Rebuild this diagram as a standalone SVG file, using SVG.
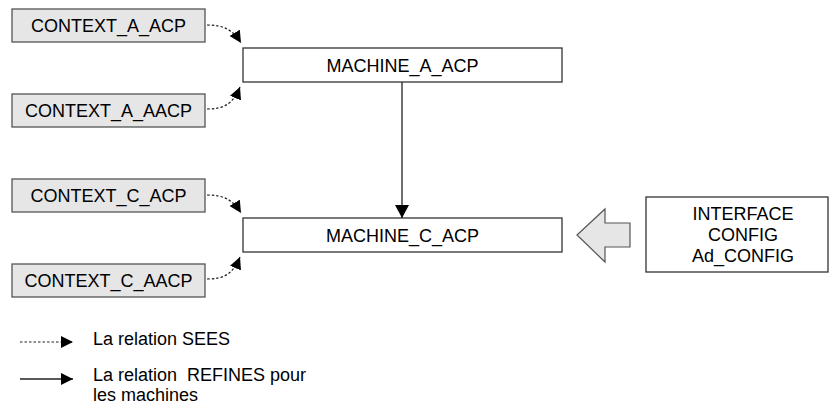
<svg xmlns="http://www.w3.org/2000/svg" width="830" height="406" viewBox="0 0 830 406">
<defs>
<style>
text{font-family:"Liberation Sans",Arial,sans-serif;font-size:18px;fill:#000}
.ctx{fill:#e6e6e6;stroke:#555;stroke-width:1.3}
.box{fill:#fff;stroke:#333;stroke-width:1.3}
.sees{fill:none;stroke:#222;stroke-width:1.2;stroke-dasharray:2.5,2}
.ref{fill:none;stroke:#222;stroke-width:1.3}
</style>
<marker id="ah" viewBox="0 0 12 12" refX="12" refY="6" markerWidth="12" markerHeight="12" markerUnits="userSpaceOnUse" orient="auto">
<path d="M0,0L12,6L0,12z" fill="#000"/>
</marker>
<marker id="ah2" viewBox="0 0 13 14" refX="13" refY="7" markerWidth="13" markerHeight="14" markerUnits="userSpaceOnUse" orient="auto">
<path d="M0,0L13,7L0,14z" fill="#000"/>
</marker>
</defs>
<g id="ctx_a_acp"><rect class="ctx" x="12" y="9" width="193" height="33"/><text x="108.5" y="32" text-anchor="middle">CONTEXT_A_ACP</text></g>
<g id="ctx_a_aacp"><rect class="ctx" x="12" y="94" width="193" height="33"/><text x="108.5" y="117" text-anchor="middle">CONTEXT_A_AACP</text></g>
<g id="ctx_c_acp"><rect class="ctx" x="12" y="179" width="193" height="33"/><text x="108.5" y="202" text-anchor="middle">CONTEXT_C_ACP</text></g>
<g id="ctx_c_aacp"><rect class="ctx" x="12" y="264" width="193" height="33"/><text x="108.5" y="287" text-anchor="middle">CONTEXT_C_AACP</text></g>
<g id="machine_a"><rect class="box" x="243" y="48" width="319" height="34"/><text x="402.5" y="71.5" text-anchor="middle">MACHINE_A_ACP</text></g>
<g id="machine_c"><rect class="box" x="243" y="218" width="319" height="34"/><text x="402.5" y="241.5" text-anchor="middle">MACHINE_C_ACP</text></g>
<g id="interface"><rect class="box" x="646" y="197" width="182" height="75"/>
<text x="743" y="220" text-anchor="middle">INTERFACE</text>
<text x="743" y="241" text-anchor="middle">CONFIG</text>
<text x="743" y="262" text-anchor="middle">Ad_CONFIG</text></g>
<g id="connectors">
<path class="sees" d="M207,25 C224,25 233,30 241,43" marker-end="url(#ah)"/>
<path class="sees" d="M207,109 C224,109 233,104 240,87" marker-end="url(#ah)"/>
<path class="sees" d="M207,195 C224,195 233,200 241,213" marker-end="url(#ah)"/>
<path class="sees" d="M207,279 C224,279 233,274 240,257" marker-end="url(#ah)"/>
<path class="ref" d="M402,82 L402,218" marker-end="url(#ah2)"/>
<path d="M630,223 L605,223 L605,209 L577,235 L605,262 L605,247 L630,247 Z" fill="#e6e6e6" stroke="#555" stroke-width="1.2"/>
</g>
<g id="legend">
<path class="sees" d="M20,342 L73,342" marker-end="url(#ah)"/>
<text x="93" y="345">La relation SEES</text>
<path class="ref" d="M20,379 L73,379" marker-end="url(#ah)"/>
<text x="93" y="381" xml:space="preserve" style="white-space:pre">La relation  REFINES pour</text>
<text x="93" y="401">les machines</text>
</g>
</svg>
